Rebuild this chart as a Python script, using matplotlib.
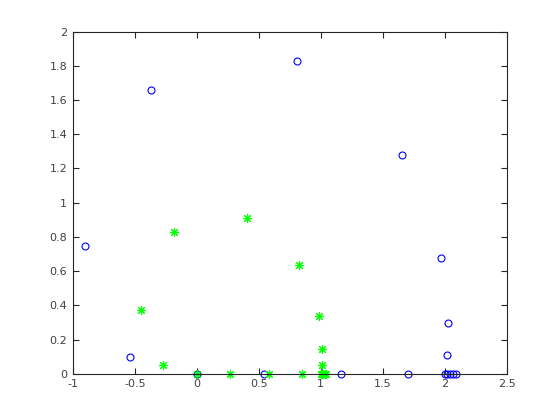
import numpy as np
import matplotlib
matplotlib.use('Agg')
import matplotlib.pyplot as plt
from matplotlib.ticker import FormatStrFormatter

# blue circles
blue_x = [-0.90, -0.54, -0.37, 0.0, 0.54, 0.81, 1.16, 1.655, 1.70, 1.97, 2.027, 2.02,
          2.0, 2.02, 2.04, 2.065, 2.09]
blue_y = [0.745, 0.10, 1.658, 0.0, 0.0, 1.827, 0.0, 1.278, 0.0, 0.677, 0.298, 0.111,
          0.0, 0.0, 0.0, 0.0, 0.0]

# green asterisks
green_x = [-0.454, -0.274, -0.185, 0.0, 0.267, 0.404, 0.579, 0.824, 0.848, 0.985,
           1.01, 1.01, 1.0, 1.01, 1.02, 1.03, 1.04]
green_y = [0.375, 0.049, 0.831, 0.0, 0.0, 0.911, 0.0, 0.636, 0.0, 0.339,
           0.146, 0.053, 0.0, 0.0, 0.0, 0.0, 0.0]

xticks = [-1, -0.5, 0, 0.5, 1, 1.5, 2, 2.5]
yticks = [0, 0.2, 0.4, 0.6, 0.8, 1, 1.2, 1.4, 1.6, 1.8, 2]

fig = plt.figure(figsize=(5.6, 4.2), dpi=100)
ax = fig.add_axes([0.13, 0.11, 0.775, 0.815])

ax.plot(blue_x, blue_y, linestyle='none', marker='o', markersize=5,
        markerfacecolor='none', markeredgecolor='#0000ff', markeredgewidth=0.8,
        clip_on=False)
ax.plot(green_x, green_y, linestyle='none', marker=(8, 2, 0), markersize=6.5,
        markeredgecolor='#00ff00', markeredgewidth=0.8, clip_on=False)

ax.set_xlim(-1, 2.5)
ax.set_ylim(0, 2)
ax.set_xticks(xticks)
ax.set_yticks(yticks)
ax.xaxis.set_major_formatter(FormatStrFormatter('%g'))
ax.yaxis.set_major_formatter(FormatStrFormatter('%g'))
ax.tick_params(direction='in', top=True, right=True, length=4, width=0.8,
               labelsize=8, colors='#262626', labelcolor='#404040', pad=4)
for s in ax.spines.values():
    s.set_color('#262626')
    s.set_linewidth(0.8)

fig.savefig('out.png', dpi=100)
